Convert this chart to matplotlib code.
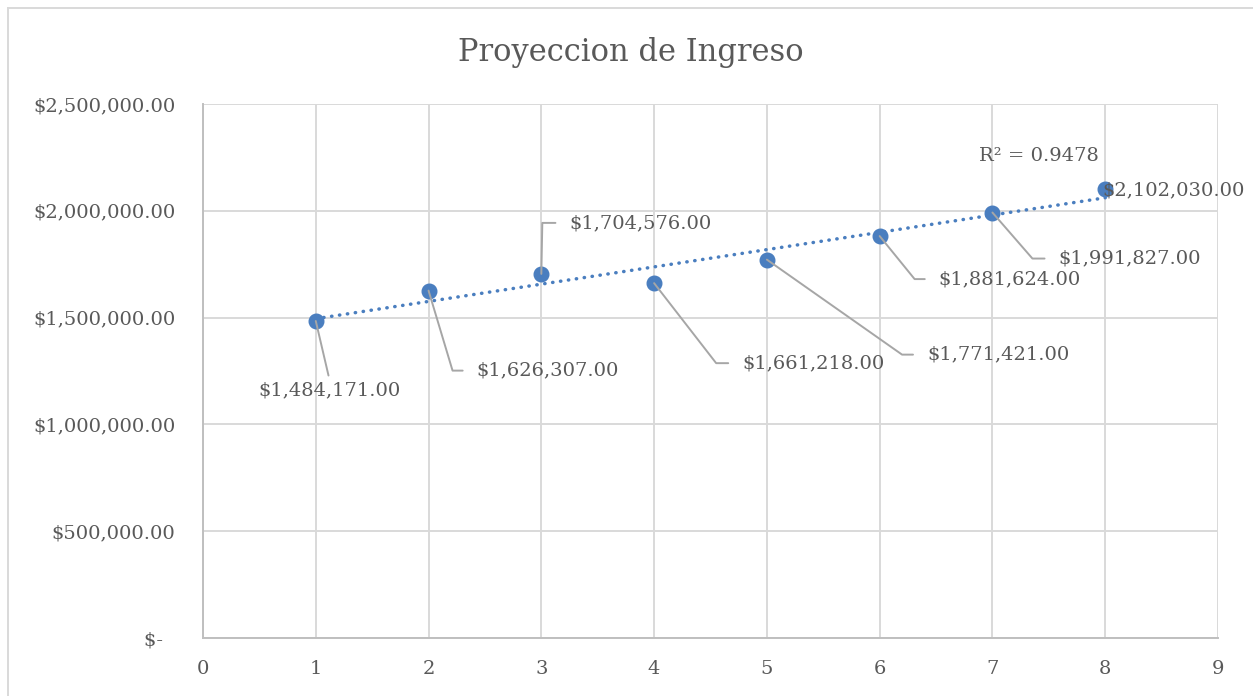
import numpy as np
import matplotlib.pyplot as plt
from matplotlib.lines import Line2D
from matplotlib.ticker import FuncFormatter

plt.rcParams['font.family'] = ['DejaVu Serif']

# data
periodo = [1, 2, 3, 4, 5, 6, 7, 8]
ingreso = [1484171, 1626307, 1704576, 1661218, 1771421, 1881624, 1991827, 2102030]

# label placement (pixel offsets from the point: text anchor, elbow of leader)
label_off = [(14, -69), (48, -80), (28, 51), (88, -80), (160, -95), (59, -43), (66, -46), (-3, -1)]
elbow_off = [None, (24, -80), (1, 51), (62, -80), (135, -95), (35, -43), (40, -46), None]

gray_txt = '#595959'
blue = '#4A7EBF'
lead = '#A6A6A6'

W, H = 1253, 696
fig = plt.figure(figsize=(W / 100, H / 100), dpi=100)
ax = fig.add_axes([203 / W, 1 - 638 / H, (1218 - 203) / W, (638 - 104) / H])

# trendline
x = np.array(periodo, dtype=float)
y = np.array(ingreso, dtype=float)
m, b = np.polyfit(x, y, 1)
fit = m * x + b
r2 = 1 - np.sum((y - fit) ** 2) / np.sum((y - y.mean()) ** 2)
xt = np.array([x.min(), x.max()])
ax.plot(xt, m * xt + b, color=blue, lw=2.5, linestyle=(0, (0.1, 2.2)),
        dash_capstyle='round', zorder=3)

ax.plot(x, y, 'o', color=blue, markersize=10.5, zorder=4)

for i, (xi, yi) in enumerate(zip(periodo, ingreso)):
    txt = f"${yi:,.2f}"
    dx, dy = label_off[i]
    if i == 0:
        ax.annotate(txt, (xi, yi), xytext=(dx, dy), textcoords='offset pixels',
                    ha='center', va='center', fontsize=14, color=gray_txt,
                    arrowprops=dict(arrowstyle='-', color=lead, lw=1.4,
                                    shrinkA=2, shrinkB=0, relpos=(0.5, 1)),
                    zorder=5)
    elif elbow_off[i] is None:
        ax.annotate(txt, (xi, yi), xytext=(dx, dy), textcoords='offset pixels',
                    ha='left', va='center', fontsize=14, color=gray_txt, zorder=5)
    else:
        ex, ey = elbow_off[i]
        ang = np.degrees(np.arctan2(ey, ex))
        ax.annotate(txt, (xi, yi), xytext=(dx, dy), textcoords='offset pixels',
                    ha='left', va='center', fontsize=14, color=gray_txt,
                    arrowprops=dict(arrowstyle='-', color=lead, lw=1.4,
                                    shrinkA=8, shrinkB=0, relpos=(0, 0.5),
                                    connectionstyle=f"angle,angleA=0,angleB={ang:.1f},rad=0"),
                    zorder=5)

ax.annotate(f"R² = {r2:.4f}", (x[-2], y[-2]), xytext=(46, 57), textcoords='offset pixels',
            ha='center', va='center', fontsize=14, color=gray_txt)

ax.set_xlim(0, 9)
ax.set_ylim(0, 2500000)
ax.set_xticks(range(0, 10))
ax.set_yticks(np.arange(0, 2500001, 500000))


def money(v, pos):
    if v == 0:
        return "$-  "
    return f"${v:,.2f}"


ax.yaxis.set_major_formatter(FuncFormatter(money))
ax.tick_params(length=0, labelsize=14, labelcolor=gray_txt)
ax.tick_params(axis='y', pad=20)
ax.tick_params(axis='x', pad=16)
ax.grid(True, color='#D9D9D9', lw=1.4)
ax.set_axisbelow(True)
for s in ['top', 'right']:
    ax.spines[s].set_visible(False)
for s in ['left', 'bottom']:
    ax.spines[s].set_color('#BFBFBF')
    ax.spines[s].set_linewidth(1.4)

fig.text(631 / W, 1 - 52 / H, "Proyeccion de Ingreso", ha='center', va='center',
         fontsize=22, color=gray_txt)

# chart border
fig.add_artist(Line2D([7.5 / W, 7.5 / W], [0, 1 - 7.5 / H], transform=fig.transFigure,
                      color='#D9D9D9', lw=1.4))
fig.add_artist(Line2D([7.5 / W, 1], [1 - 7.5 / H, 1 - 7.5 / H], transform=fig.transFigure,
                      color='#D9D9D9', lw=1.4))

fig.savefig('out.png', dpi=100)
